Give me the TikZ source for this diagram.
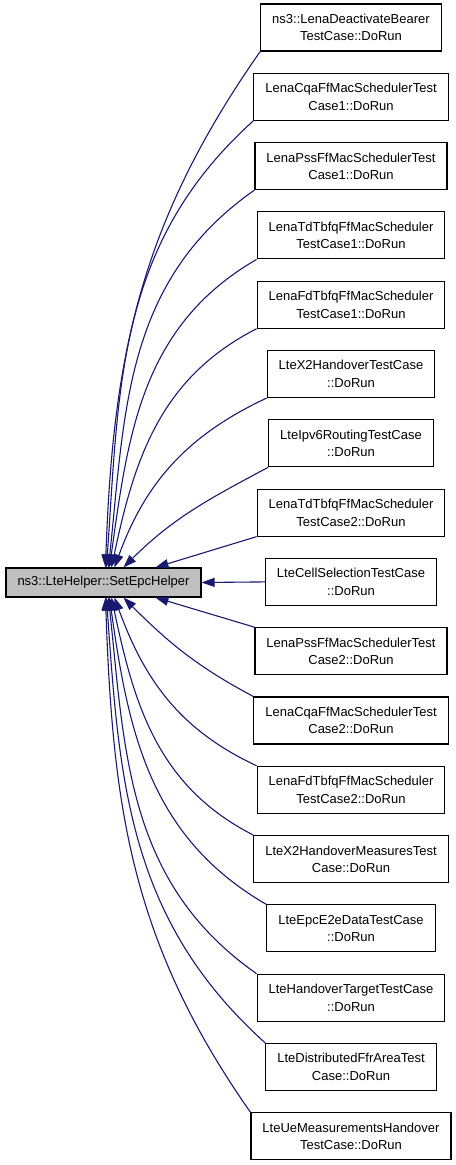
\documentclass[tikz,border=0pt]{standalone}
\usepackage{fontspec}
\setmainfont{Liberation Sans}
\usetikzlibrary{arrows.meta}
\definecolor{edgeblue}{RGB}{25,25,112}
\definecolor{maingray}{RGB}{191,191,191}
\tikzset{
  fn/.style={draw=black,line width=1.1bp,align=center,inner xsep=11.5bp,inner ysep=0pt,
    minimum height=47bp,font=\fontsize{13bp}{17.5bp}\selectfont},
  caller/.style={draw=edgeblue,line width=1.1bp,-{Triangle[length=13bp,width=9bp]}}
}
\begin{document}
\begin{tikzpicture}[x=1bp,y=1bp]
  \useasboundingbox (0,0) rectangle (456,-1165);
  \node[fn,fill=maingray,minimum height=29bp] (main) at (103.5,-582.5) {ns3::LteHelper::SetEpcHelper};
  \node[fn] (c1) at (351,-27.5) {ns3::LenaDeactivateBearer\\TestCase::DoRun};
  \node[fn] (c2) at (351,-96.8) {LenaCqaFfMacSchedulerTest\\Case1::DoRun};
  \node[fn] (c3) at (351,-166.1) {LenaPssFfMacSchedulerTest\\Case1::DoRun};
  \node[fn] (c4) at (351,-235.4) {LenaTdTbfqFfMacScheduler\\TestCase1::DoRun};
  \node[fn] (c5) at (351,-304.7) {LenaFdTbfqFfMacScheduler\\TestCase1::DoRun};
  \node[fn] (c6) at (351,-374.0) {LteX2HandoverTestCase\\::DoRun};
  \node[fn] (c7) at (351,-443.3) {LteIpv6RoutingTestCase\\::DoRun};
  \node[fn] (c8) at (351,-512.6) {LenaTdTbfqFfMacScheduler\\TestCase2::DoRun};
  \node[fn] (c9) at (351,-581.9) {LteCellSelectionTestCase\\::DoRun};
  \node[fn] (c10) at (351,-651.2) {LenaPssFfMacSchedulerTest\\Case2::DoRun};
  \node[fn] (c11) at (351,-720.5) {LenaCqaFfMacSchedulerTest\\Case2::DoRun};
  \node[fn] (c12) at (351,-789.8) {LenaFdTbfqFfMacScheduler\\TestCase2::DoRun};
  \node[fn] (c13) at (351,-859.1) {LteX2HandoverMeasuresTest\\Case::DoRun};
  \node[fn] (c14) at (351,-928.4) {LteEpcE2eDataTestCase\\::DoRun};
  \node[fn] (c15) at (351,-997.7) {LteHandoverTargetTestCase\\::DoRun};
  \node[fn] (c16) at (351,-1067.0) {LteDistributedFfrAreaTest\\Case::DoRun};
  \node[fn] (c17) at (351,-1136.3) {LteUeMeasurementsHandover\\TestCase::DoRun};
  \draw[caller] (c1.south west) to[out=235,in=88] ([xshift=100bp]main.north west);
  \draw[caller] (c2.south west) to[out=222,in=86] ([xshift=101bp]main.north west);
  \draw[caller] (c3.south west) to[out=215,in=84] ([xshift=103bp]main.north west);
  \draw[caller] (c4.south west) to[out=210,in=82] ([xshift=104bp]main.north west);
  \draw[caller] (c5.south west) to[out=207,in=78] ([xshift=106bp]main.north west);
  \draw[caller] (c6.south west) to[out=205,in=70] ([xshift=109bp]main.north west);
  \draw[caller] (c7.south west) to[out=208,in=45] ([xshift=118bp]main.north west);
  \draw[caller] (c8.south west) -- ([xshift=150bp]main.north west);
  \draw[caller] (c9.west) -- (main.east);
  \draw[caller] (c10.north west) -- ([xshift=150bp]main.south west);
  \draw[caller] (c11.north west) to[out=152,in=-45] ([xshift=118bp]main.south west);
  \draw[caller] (c12.north west) to[out=155,in=-70] ([xshift=109bp]main.south west);
  \draw[caller] (c13.north west) to[out=153,in=-78] ([xshift=106bp]main.south west);
  \draw[caller] (c14.north west) to[out=150,in=-82] ([xshift=104bp]main.south west);
  \draw[caller] (c15.north west) to[out=145,in=-84] ([xshift=103bp]main.south west);
  \draw[caller] (c16.north west) to[out=138,in=-86] ([xshift=101bp]main.south west);
  \draw[caller] (c17.north west) to[out=125,in=-88] ([xshift=100bp]main.south west);
\end{tikzpicture}
\end{document}
